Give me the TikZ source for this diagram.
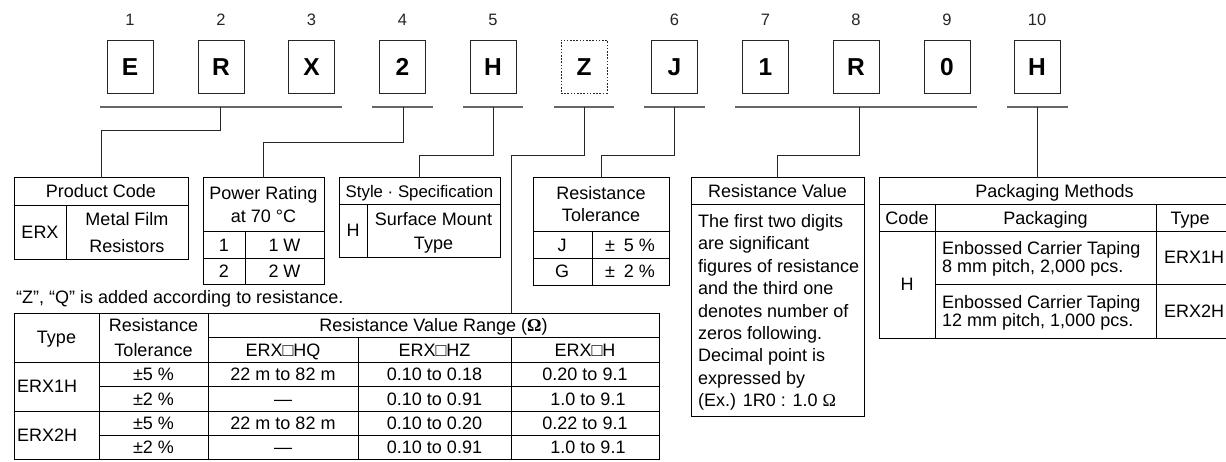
\documentclass[tikz,border=0pt]{standalone}
\usepackage{fontspec}
\setmainfont{Liberation Sans}
\newfontfamily\serifom{Liberation Serif}
\begin{document}
\begin{tikzpicture}[x=1pt,y=-1pt,
  digit/.style={draw=black!85, line width=0.9pt, minimum width=46pt, minimum height=53pt, inner sep=0pt,
    font=\fontsize{24.5}{24.5}\selectfont\bfseries, text height=17.5pt, text depth=0pt},
  dotbox/.style={dash pattern=on 1.6pt off 1.6pt},
  num/.style={font=\fontsize{16.5}{16.5}\selectfont, text=black!85, inner sep=0pt, text height=11.8pt, text depth=0pt},
  uline/.style={draw=black!60, line width=1.4pt},
  conn/.style={draw=black!85, line width=0.9pt},
  box/.style={draw=black, line width=1pt, inner sep=0pt, outer sep=0pt, anchor=north west},
  rule/.style={draw=black, line width=1pt},
  txt/.style={font=\fontsize{18}{22.4}\selectfont, inner sep=0pt, text height=12.9pt, text depth=0pt},
  stxt/.style={font=\fontsize{16.8}{20}\selectfont, inner sep=0pt, text height=12pt, text depth=0pt},
]
\useasboundingbox (0,0) rectangle (1226,461);
\fill[white] (0,0) rectangle (1226,461);

% ---- digit boxes
\node[digit] (d1) at (130,66.5) {E};
\node[digit] (d2) at (221,66.5) {R};
\node[digit] (d3) at (311.5,66.5) {X};
\node[digit] (d4) at (402.5,66.5) {2};
\node[digit] (d5) at (493,66.5) {H};
\node[digit,dotbox] (d6) at (584,66.5) {Z};
\node[digit] (d7) at (674.5,66.5) {J};
\node[digit] (d8) at (765.5,66.5) {1};
\node[digit] (d9) at (856,66.5) {R};
\node[digit] (d10) at (947,66.5) {0};
\node[digit] (d11) at (1037,66.5) {H};

% ---- position numbers
\node[num] (n1) at (130,20) {1};
\node[num] (n2) at (221,20) {2};
\node[num] (n3) at (311.5,20) {3};
\node[num] (n4) at (402.5,20) {4};
\node[num] (n5) at (493,20) {5};
\node[num] (n6) at (674.5,20) {6};
\node[num] (n7) at (765.5,20) {7};
\node[num] (n8) at (856,20) {8};
\node[num] (n9) at (947,20) {9};
\node[num] (n10) at (1037,20) {10};

% ---- underlines
\draw[uline] (100,107) -- (342,107);
\draw[uline] (372,107) -- (433,107);
\draw[uline] (463,107) -- (523,107);
\draw[uline] (554,107) -- (614,107);
\draw[uline] (644,107) -- (705,107);
\draw[uline] (735,107) -- (977,107);
\draw[uline] (1007,107) -- (1068,107);
\coordinate (t1) at (220,107);
\coordinate (t2) at (403,107);
\coordinate (t3) at (493,107);
\coordinate (t4) at (584,107);
\coordinate (t5) at (674,107);
\coordinate (t6) at (859,107);
\coordinate (t7) at (1037,107);

% ---- boxes
\node[box, minimum width=174pt, minimum height=82pt] (pc) at (14,177.5) {};
\node[box, minimum width=121pt, minimum height=106.5pt] (pr) at (203,177.5) {};
\node[box, minimum width=161pt, minimum height=79.5pt] (st) at (339,177.5) {};
\node[box, minimum width=136pt, minimum height=107.5pt] (rt) at (533,177.5) {};
\node[box, minimum width=173pt, minimum height=238.5pt] (rv) at (691,177.5) {};
\node[box, minimum width=351pt, minimum height=160.5pt] (pk) at (879,177.5) {};
\node[box, minimum width=645pt, minimum height=146pt] (bt) at (14,313) {};
\coordinate (btz) at (511,313);

% ---- connectors
\draw[conn] (t1) -- ++(0,23) -| (pc.north);
\draw[conn] (t2) -- ++(0,35) -| (pr.north);
\draw[conn] (t3) -- ++(0,48) -| (st.north);
\draw[conn] (t4) -- ++(0,48) -| (btz);
\draw[conn] (t5) -- ++(0,48) -| (rt.north);
\draw[conn] (t6) -- ++(0,48) -| (rv.north);
\draw[conn] (t7) -- (t7 |- pk.north);

% ---- Product Code
\draw[rule] (14,205) -- (188,205) (66,205) -- (66,259.5);
\node[txt] (pc1) at (101,191) {Product Code};
\node[txt] (pc2) at (40,232) {ERX};
\node[txt] (pc3) at (127,219) {Metal Film};
\node[txt] (pc4) at (127,246) {Resistors};

% ---- Power Rating
\draw[rule] (203,231) -- (324,231) (203,258) -- (324,258) (245,231) -- (245,284);
\node[txt] (pr1) at (263.5,193) {Power Rating};
\node[txt] (pr2) at (263.5,216.5) {at 70 °C};
\node[txt] (pr3) at (224,245) {1};
\node[txt] (pr4) at (284.5,245) {1 W};
\node[txt] (pr5) at (224,271.5) {2};
\node[txt] (pr6) at (284.5,271.5) {2 W};

% ---- Style / Specification
\draw[rule] (339,204) -- (500,204) (367,204) -- (367,257);
\node[stxt] (st1) at (419.5,191) {Style · Specification};
\node[txt] (st2) at (353,230.5) {H};
\node[txt] (st3) at (433.5,219) {Surface Mount};
\node[txt] (st4) at (433.5,243) {Type};

% ---- Resistance Tolerance
\draw[rule] (533,231) -- (669,231) (533,258) -- (669,258) (592,231) -- (592,285);
\node[txt] (rt1) at (601,193) {Resistance};
\node[txt] (rt2) at (601,215.5) {Tolerance};
\node[txt] (rt3) at (562,245) {J};
\node[txt] (rt4) at (630,245) {±\hspace{9pt}5 \%};
\node[txt] (rt5) at (562,271.5) {G};
\node[txt] (rt6) at (630,271.5) {±\hspace{9pt}2 \%};

% ---- Resistance Value
\draw[rule] (691,204) -- (864,204);
\node[txt] (rv0) at (777.5,191) {Resistance Value};
\foreach \t [count=\i] in {{The first two digits},{are significant},{figures of resistance},{and the third one},{denotes number of},{zeros following.},{Decimal point is},{expressed by},{(Ex.) 1R0 : 1.0 {\serifom Ω}}}
  \node[txt, anchor=west] (rv\i) at (698,{221+22.4*(\i-1)}) {\t};

% ---- Packaging Methods
\draw[rule] (879,204.5) -- (1230,204.5) (879,231) -- (1230,231)
  (935,204.5) -- (935,338) (1156,204.5) -- (1156,338) (935,284) -- (1230,284);
\node[txt] (pk1) at (1054.5,191) {Packaging Methods};
\node[txt] (pk2) at (907,218) {Code};
\node[txt] (pk3) at (1045.5,218) {Packaging};
\node[txt] (pk4) at (1190,218) {Type};
\node[txt] (pk5) at (907,284.5) {H};
\node[txt, anchor=west] (pk6) at (942,248) {Enbossed Carrier Taping};
\node[txt, anchor=west] (pk7) at (942,266.5) {8 mm pitch, 2,000 pcs.};
\node[txt, anchor=west] (pk8) at (942,302) {Enbossed Carrier Taping};
\node[txt, anchor=west] (pk9) at (942,320) {12 mm pitch, 1,000 pcs.};
\node[txt] (pk10) at (1194,257.5) {ERX1H};
\node[txt] (pk11) at (1194,311) {ERX2H};

% ---- note
\node[txt, anchor=west] (note) at (16,297) {“Z”, “Q” is added according to resistance.};

% ---- big table
\draw[rule] (208,337.5) -- (659,337.5) (14,362) -- (659,362) (99,386.5) -- (659,386.5)
  (14,411) -- (659,411) (99,435) -- (659,435)
  (99,313) -- (99,459) (208,313) -- (208,459) (358,337.5) -- (358,459) (511,337.5) -- (511,459);
\node[txt] (b1) at (56.5,337.5) {Type};
\node[txt] (b2) at (153.5,325) {Resistance};
\node[txt] (b3) at (153.5,350) {Tolerance};
\node[txt] (b4) at (433.5,325) {Resistance Value Range ({\serifom\bfseries Ω})};
\node[txt] (b5) at (283,350) {ERX□HQ};
\node[txt] (b6) at (434.5,350) {ERX□HZ};
\node[txt] (b7) at (585,350) {ERX□H};
\node[txt, anchor=west] (b8) at (17,386.5) {ERX1H};
\node[txt, anchor=west] (b9) at (17,435) {ERX2H};
\node[txt] (r11) at (153.5,374.5) {±5 \%};
\node[txt] (r12) at (283,374.5) {22 m to 82 m};
\node[txt] (r13) at (434.5,374.5) {0.10 to 0.18};
\node[txt] (r14) at (585,374.5) {0.20 to 9.1};
\node[txt] (r21) at (153.5,399) {±2 \%};
\node[txt] (r22) at (283,399) {—};
\node[txt] (r23) at (434.5,399) {0.10 to 0.91};
\node[txt] (r24) at (588,399) {1.0 to 9.1};
\node[txt] (r31) at (153.5,423) {±5 \%};
\node[txt] (r32) at (283,423) {22 m to 82 m};
\node[txt] (r33) at (434.5,423) {0.10 to 0.20};
\node[txt] (r34) at (585,423) {0.22 to 9.1};
\node[txt] (r41) at (153.5,447) {±2 \%};
\node[txt] (r42) at (283,447) {—};
\node[txt] (r43) at (434.5,447) {0.10 to 0.91};
\node[txt] (r44) at (588,447) {1.0 to 9.1};
\end{tikzpicture}
\end{document}
